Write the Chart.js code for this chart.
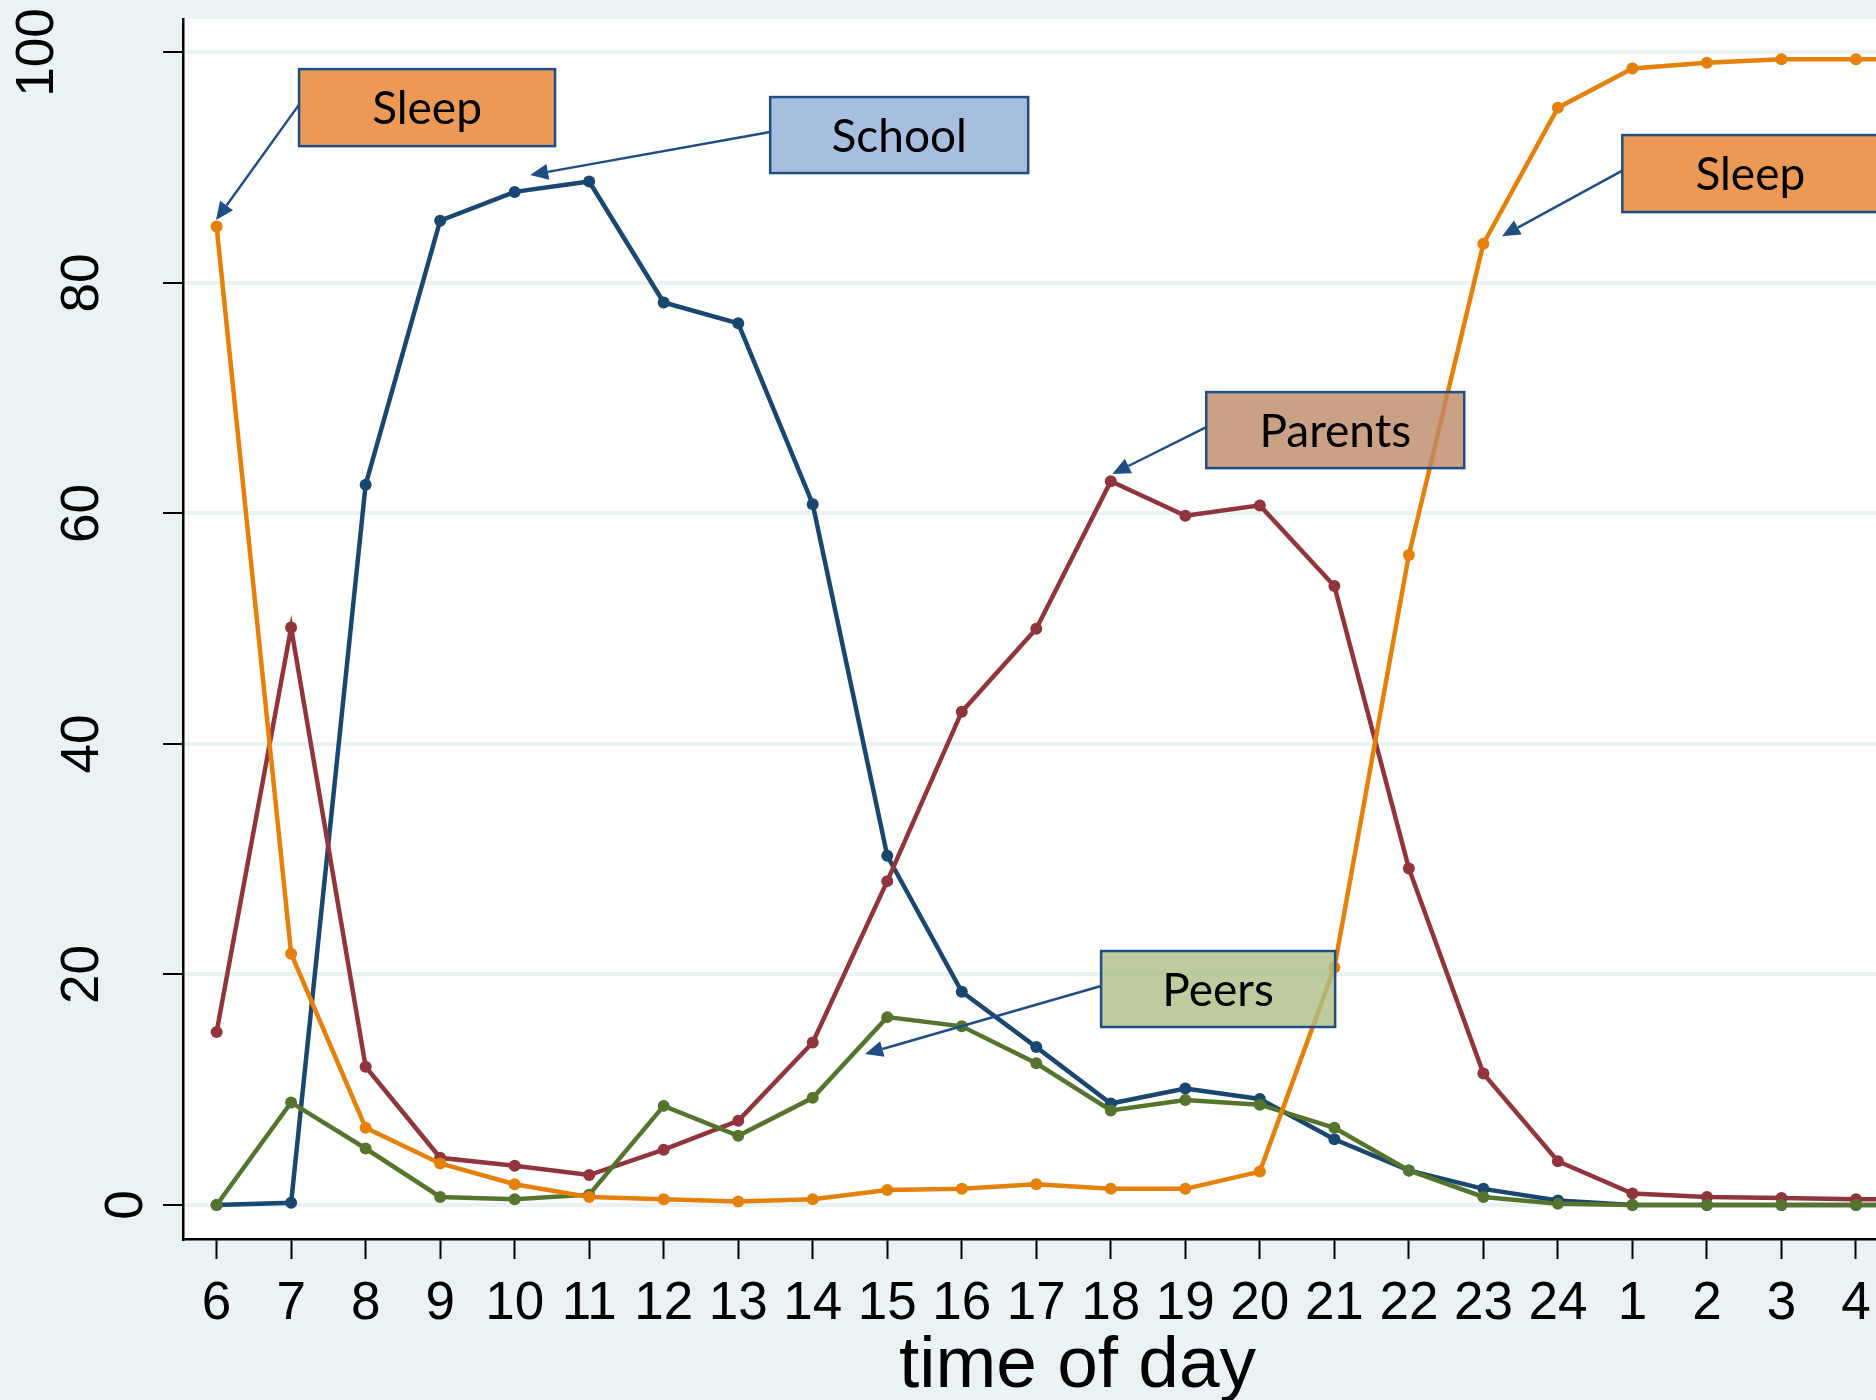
<!DOCTYPE html>
<html>
<head>
<meta charset="utf-8">
<script src="https://cdn.jsdelivr.net/npm/chart.js@4.4.1/dist/chart.umd.min.js"></script>
<style>
    html, body { margin: 0; padding: 0; background: #eaf2f3; overflow: hidden; }
    #wrap { width: 1978px; height: 1400px; }
</style>
</head>
<body>
<div id="wrap"><canvas id="chart1" width="1978" height="1400"></canvas></div>
<script>
// time of day, 6 in the morning round to 5 the next morning
const hours = ['6', '7', '8', '9', '10', '11', '12', '13', '14', '15', '16', '17', '18',
               '19', '20', '21', '22', '23', '24', '1', '2', '3', '4', '5'];

// percent of the hour spent with ...
const sleep   = [84.9, 21.8, 6.7, 3.6, 1.8, 0.7, 0.5, 0.3, 0.5, 1.3, 1.4, 1.8, 1.4, 1.4, 2.9, 20.6, 56.4, 83.4, 95.2, 98.6, 99.1, 99.4, 99.4, 99.4];
const school  = [0, 0.2, 62.5, 85.4, 87.9, 88.8, 78.3, 76.5, 60.8, 30.3, 18.5, 13.7, 8.8, 10.1, 9.2, 5.7, 3.0, 1.4, 0.4, 0, 0, 0, 0, 0];
const parents = [15.0, 50.1, 12.0, 4.1, 3.4, 2.6, 4.8, 7.3, 14.1, 28.1, 42.8, 50.0, 62.8, 59.8, 60.7, 53.7, 29.2, 11.4, 3.8, 1.0, 0.7, 0.6, 0.5, 0.5];
const peers   = [0, 8.9, 4.9, 0.7, 0.5, 0.9, 8.6, 6.0, 9.3, 16.3, 15.5, 12.3, 8.2, 9.1, 8.7, 6.7, 3.0, 0.7, 0.1, 0, 0, 0, 0, 0];

const yTicks = [0, 20, 40, 60, 80, 100];

// text boxes with arrows, placed in data units (x = hour index)
const notes = [
    { text: 'Sleep',   fill: 'rgba(231,128,43,0.8)',  x: 2.824,  y: 95.21, w: 256, h: 77, tipX: -0.008, tipY: 85.45 },
    { text: 'School',  fill: 'rgba(145,175,214,0.8)', x: 9.16,   y: 92.83, w: 258, h: 76, tipX: 4.207,  tipY: 89.36 },
    { text: 'Parents', fill: 'rgba(189,137,101,0.8)', x: 15.012, y: 67.23, w: 258, h: 76, tipX: 12.02,  tipY: 63.42 },
    { text: 'Peers',   fill: 'rgba(172,190,134,0.8)', x: 13.44,  y: 18.74, w: 234, h: 76, tipX: 8.702,  tipY: 13.1 },
    { text: 'Sleep',   fill: 'rgba(231,128,43,0.8)',  x: 20.582, y: 89.49, w: 256, h: 77, tipX: 17.25,  tipY: 84.06 }
];

function pts(arr) {
    return arr.map(function(v, i) { return { x: i, y: v }; });
}

const plotBack = {
    id: 'plotBack',
    beforeDraw: function(chart) {
        const a = chart.chartArea, c = chart.ctx;
        c.save();
        c.fillStyle = '#ffffff';
        c.fillRect(a.left, a.top, a.right - a.left, a.bottom - a.top);
        c.restore();
    }
};

// rotated y labels, stata style
const yLabels = {
    id: 'yLabels',
    afterDraw: function(chart) {
        const ys = chart.scales.y, c = chart.ctx;
        c.save();
        c.fillStyle = '#000';
        c.font = '53px "Liberation Sans", Arial, sans-serif';
        c.textAlign = 'center';
        c.textBaseline = 'alphabetic';
        yTicks.forEach(function(v) {
            const s = String(v);
            const bx = ys.right - 130 + (3 - s.length) * 44.5;
            c.save();
            c.translate(bx, ys.getPixelForValue(v));
            c.rotate(-Math.PI / 2);
            c.fillText(s, 0, 0);
            c.restore();
        });
        c.restore();
    }
};

const notesPlugin = {
    id: 'notes',
    afterDatasetsDraw: function(chart) {
        const xs = chart.scales.x, ys = chart.scales.y, c = chart.ctx;
        c.save();
        notes.forEach(function(n) {
            const cx = xs.getPixelForValue(n.x), cy = ys.getPixelForValue(n.y);
            const left = cx - n.w / 2, top = cy - n.h / 2;
            const sx = left, sy = cy - 3;
            const tx = xs.getPixelForValue(n.tipX), ty = ys.getPixelForValue(n.tipY);
            const ang = Math.atan2(ty - sy, tx - sx);
            const hl = 18, hw = 8;
            const bx = tx - hl * Math.cos(ang), by = ty - hl * Math.sin(ang);

            c.strokeStyle = '#1f4e85';
            c.lineWidth = 2.5;
            c.beginPath();
            c.moveTo(sx, sy);
            c.lineTo(bx, by);
            c.stroke();
            c.fillStyle = '#1f4e85';
            c.beginPath();
            c.moveTo(tx, ty);
            c.lineTo(bx + hw * Math.sin(ang), by - hw * Math.cos(ang));
            c.lineTo(bx - hw * Math.sin(ang), by + hw * Math.cos(ang));
            c.closePath();
            c.fill();

            c.fillStyle = n.fill;
            c.fillRect(left, top, n.w, n.h);
            c.strokeRect(left, top, n.w, n.h);

            c.fillStyle = '#000';
            c.font = '46px Lato, "Open Sans", sans-serif';
            c.textAlign = 'center';
            c.textBaseline = 'alphabetic';
            c.fillText(n.text, cx, cy + 16.5);
        });
        c.restore();
    }
};

var ctx = document.getElementById('chart1').getContext('2d');
var chart = new Chart(ctx, {
    type: 'line',
    data: {
        datasets: [
            { label: 'Sleep',   data: pts(sleep),   borderColor: '#e5800a', backgroundColor: '#e5800a' },
            { label: 'Peers',   data: pts(peers),   borderColor: '#55752f', backgroundColor: '#55752f' },
            { label: 'Parents', data: pts(parents), borderColor: '#90353b', backgroundColor: '#90353b' },
            { label: 'School',  data: pts(school),  borderColor: '#1a476f', backgroundColor: '#1a476f' }
        ]
    },
    options: {
        responsive: false,
        animation: false,
        devicePixelRatio: 1,
        layout: { padding: { top: 19, left: 0, right: 0, bottom: 0 } },
        elements: {
            line: { borderWidth: 4.5, tension: 0 },
            point: { radius: 6, borderWidth: 0, hoverRadius: 6 }
        },
        plugins: { legend: { display: false }, tooltip: { enabled: false } },
        scales: {
            x: {
                type: 'linear',
                min: -0.451,
                max: 23.557,
                afterBuildTicks: function(s) { s.ticks = hours.map(function(h, i) { return { value: i }; }); },
                afterFit: function(s) { s.height = 161; },
                ticks: {
                    autoSkip: false, maxRotation: 0, minRotation: 0, padding: 14, color: '#000',
                    font: { family: '"Liberation Sans", Arial, sans-serif', size: 53 },
                    callback: function(v) { return hours[v]; }
                },
                grid: { drawOnChartArea: false, drawTicks: true, tickLength: 20, tickColor: '#000', tickWidth: 2 },
                border: { color: '#000', width: 2.5 },
                title: {
                    display: true, text: 'time of day', color: '#000',
                    font: { family: '"Liberation Sans", Arial, sans-serif', size: 73, lineHeight: 0.9 },
                    padding: { top: 0, bottom: 0 }
                }
            },
            y: {
                min: -2.95,
                max: 102.9,
                afterBuildTicks: function(s) { s.ticks = yTicks.map(function(v) { return { value: v }; }); },
                afterFit: function(s) { s.width = 183; },
                ticks: { display: false },
                grid: { color: '#eaf2f3', lineWidth: 4, drawTicks: true, tickLength: 20, tickColor: '#000', tickWidth: 2 },
                border: { color: '#000', width: 2.5 }
            }
        }
    },
    plugins: [plotBack, notesPlugin, yLabels]
});
</script>
</body>
</html>
